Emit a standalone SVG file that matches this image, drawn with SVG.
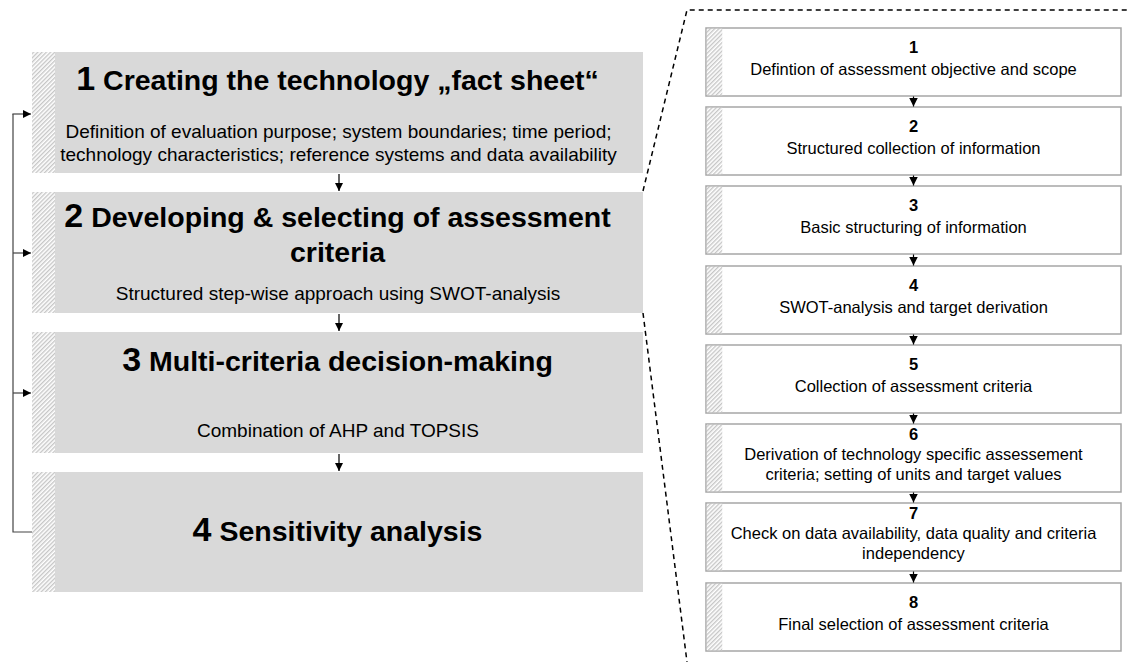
<svg xmlns="http://www.w3.org/2000/svg" width="1128" height="662" viewBox="0 0 1128 662">
<defs>
<pattern id="hatch" width="3" height="3" patternUnits="userSpaceOnUse" patternTransform="rotate(45)">
<rect width="3" height="3" fill="#ffffff"/>
<line x1="0.7" y1="0" x2="0.7" y2="3" stroke="#c4c4c4" stroke-width="1.3"/>
</pattern>
<marker id="ah" markerUnits="userSpaceOnUse" markerWidth="9" markerHeight="9" refX="8" refY="4" orient="auto">
<path d="M0,0 L8,4 L0,8 z" fill="#000"/>
</marker>
<marker id="ah2" markerUnits="userSpaceOnUse" markerWidth="10" markerHeight="10" refX="9" refY="4.5" orient="auto">
<path d="M0,0 L9,4.5 L0,9 z" fill="#000"/>
</marker>
</defs>
<style>
.big{fill:#d9d9d9}
.hl{fill:url(#hatch)}
.sm{fill:#fff;stroke:#a6a6a6;stroke-width:1.5}
.t{font-family:"Liberation Sans",Arial,sans-serif;fill:#000;text-anchor:middle}
.title{font-size:28.5px;font-weight:bold}
.num{font-size:34px;font-weight:bold}
.sub{font-size:19px}
.rn{font-size:16.5px;font-weight:bold}
.rt{font-size:16.5px}
.con{stroke:#000;stroke-width:1.2;fill:none}
.fb{stroke:#444;stroke-width:1.2;fill:none}
.dash{stroke:#000;stroke-width:1.5;fill:none;stroke-dasharray:5,4}
</style>

<g id="step1">
<rect class="big" x="32" y="52" width="611" height="121"/>
<rect class="hl" x="32" y="52" width="23" height="121"/>
<text class="t title" x="337.5" y="90"><tspan class="num">1</tspan> Creating the technology „fact sheet“</text>
<text class="t sub" x="338.5" y="138">Definition of evaluation purpose; system boundaries; time period;</text>
<text class="t sub" x="338.5" y="161">technology characteristics; reference systems and data availability</text>
</g>

<g id="step2">
<rect class="big" x="32" y="192" width="611" height="121"/>
<rect class="hl" x="32" y="192" width="23" height="121"/>
<text class="t title" x="337.5" y="227"><tspan class="num">2</tspan> Developing &amp; selecting of assessment</text>
<text class="t title" x="337.5" y="262">criteria</text>
<text class="t sub" x="338" y="300">Structured step-wise approach using SWOT-analysis</text>
</g>

<g id="step3">
<rect class="big" x="32" y="332" width="611" height="121"/>
<rect class="hl" x="32" y="332" width="23" height="121"/>
<text class="t title" x="337.5" y="371"><tspan class="num">3</tspan> Multi-criteria decision-making</text>
<text class="t sub" x="338" y="437">Combination of AHP and TOPSIS</text>
</g>

<g id="step4">
<rect class="big" x="32" y="472" width="611" height="120"/>
<rect class="hl" x="32" y="472" width="23" height="120"/>
<text class="t title" x="337.5" y="541"><tspan class="num">4</tspan> Sensitivity analysis</text>
</g>

<g id="sub1">
<rect class="sm" x="706" y="28" width="415" height="68"/>
<rect class="hl" x="706.75" y="28.75" width="15.5" height="66.5"/>
<text class="t rn" x="913.5" y="53">1</text>
<text class="t rt" x="913.5" y="75">Defintion of assessment objective and scope</text>
</g>
<g id="sub2">
<rect class="sm" x="706" y="107" width="415" height="68"/>
<rect class="hl" x="706.75" y="107.75" width="15.5" height="66.5"/>
<text class="t rn" x="913.5" y="132">2</text>
<text class="t rt" x="913.5" y="154">Structured collection of information</text>
</g>
<g id="sub3">
<rect class="sm" x="706" y="186" width="415" height="68"/>
<rect class="hl" x="706.75" y="186.75" width="15.5" height="66.5"/>
<text class="t rn" x="913.5" y="211">3</text>
<text class="t rt" x="913.5" y="233">Basic structuring of information</text>
</g>
<g id="sub4">
<rect class="sm" x="706" y="266" width="415" height="68"/>
<rect class="hl" x="706.75" y="266.75" width="15.5" height="66.5"/>
<text class="t rn" x="913.5" y="291">4</text>
<text class="t rt" x="913.5" y="313">SWOT-analysis and target derivation</text>
</g>
<g id="sub5">
<rect class="sm" x="706" y="345" width="415" height="68"/>
<rect class="hl" x="706.75" y="345.75" width="15.5" height="66.5"/>
<text class="t rn" x="913.5" y="370">5</text>
<text class="t rt" x="913.5" y="392">Collection of assessment criteria</text>
</g>
<g id="sub6">
<rect class="sm" x="706" y="424" width="415" height="68"/>
<rect class="hl" x="706.75" y="424.75" width="15.5" height="66.5"/>
<text class="t rn" x="913.5" y="440">6</text>
<text class="t rt" x="913.5" y="460">Derivation of technology specific assessement</text>
<text class="t rt" x="913.5" y="479.5">criteria; setting of units and target values</text>
</g>
<g id="sub7">
<rect class="sm" x="706" y="503" width="415" height="68"/>
<rect class="hl" x="706.75" y="503.75" width="15.5" height="66.5"/>
<text class="t rn" x="913.5" y="519">7</text>
<text class="t rt" x="913.5" y="539">Check on data availability, data quality and criteria</text>
<text class="t rt" x="913.5" y="558.5">independency</text>
</g>
<g id="sub8">
<rect class="sm" x="706" y="583" width="415" height="68"/>
<rect class="hl" x="706.75" y="583.75" width="15.5" height="66.5"/>
<text class="t rn" x="913.5" y="608">8</text>
<text class="t rt" x="913.5" y="630">Final selection of assessment criteria</text>
</g>

<g id="connectors">
<line class="con" x1="339" y1="174" x2="339" y2="191" marker-end="url(#ah)"/>
<line class="con" x1="339" y1="314" x2="339" y2="331" marker-end="url(#ah)"/>
<line class="con" x1="339" y1="454" x2="339" y2="471" marker-end="url(#ah)"/>
<polyline class="fb" points="32,532 13,532 13,114"/>
<line class="fb" x1="12.4" y1="114" x2="31" y2="114" marker-end="url(#ah)"/>
<line class="fb" x1="13" y1="253" x2="31" y2="253" marker-end="url(#ah)"/>
<line class="fb" x1="13" y1="393" x2="31" y2="393" marker-end="url(#ah)"/>
<line class="con" x1="913.5" y1="96.5" x2="913.5" y2="106.5" marker-end="url(#ah2)"/>
<line class="con" x1="913.5" y1="175.5" x2="913.5" y2="185.5" marker-end="url(#ah2)"/>
<line class="con" x1="913.5" y1="254.5" x2="913.5" y2="265.5" marker-end="url(#ah2)"/>
<line class="con" x1="913.5" y1="334.5" x2="913.5" y2="344.5" marker-end="url(#ah2)"/>
<line class="con" x1="913.5" y1="413.5" x2="913.5" y2="423.5" marker-end="url(#ah2)"/>
<line class="con" x1="913.5" y1="492.5" x2="913.5" y2="502.5" marker-end="url(#ah2)"/>
<line class="con" x1="913.5" y1="571.5" x2="913.5" y2="582.5" marker-end="url(#ah2)"/>
<polyline class="dash" points="643,191 687,10 1128,10"/>
<line class="dash" x1="643" y1="313" x2="687" y2="662"/>
</g>
</svg>
